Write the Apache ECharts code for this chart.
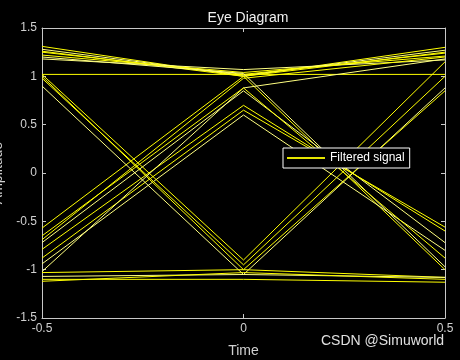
<!DOCTYPE html>
<html><head><meta charset="utf-8">
<script src="https://cdn.jsdelivr.net/npm/echarts@6/dist/echarts.min.js"></script>
<style>html,body{margin:0;padding:0;background:#000;}#c{width:460px;height:360px;}</style>
</head><body><div id="c"></div>
<script>
const timePoints = [-0.5, 0, 0.5];
const xTickLabels = ['-0.5', '0', '0.5'];
const yTickLabels = ['-1.5', '-1', '-0.5', '0', '0.5', '1', '1.5'];
const traces = [
  [1.31, 1.00, 1.30],
  [1.28, 1.01, 1.27],
  [1.25, 1.02, 1.24],
  [1.22, 1.04, 1.21],
  [1.18, 1.07, 1.17],
  [1.02, 1.02, 1.02],
  [1.26, 1.00, -1.00],
  [1.20, 1.03, -0.97],
  [-0.57, 1.00, 1.25],
  [-0.69, 0.98, 1.20],
  [-0.72, 0.85, -0.72],
  [-0.79, 0.70, -0.60],
  [-0.88, 0.65, -0.56],
  [-0.94, 0.60, -0.80],
  [1.02, -0.90, 1.15],
  [0.98, -0.95, 1.00],
  [0.90, -1.05, 0.88],
  [1.00, -1.00, -1.08],
  [-1.03, -1.00, 0.85],
  [-1.07, -1.05, -1.08],
  [-1.10, -1.10, -1.13],
  [-1.12, -1.03, -1.10],
  [-1.02, 0.88, 1.18],
  [-0.65, 0.88, -0.88]
];
const seriesName = 'Filtered signal';
const chart = echarts.init(document.getElementById('c'), null, {renderer: 'canvas'});
const font = 'Liberation Sans, Arial, sans-serif';
const axisCol = '#c8c8c8';
const series = traces.map((t, i) => ({
  name: seriesName,
  type: 'line',
  data: timePoints.map((x, j) => [x, t[j]]),
  symbol: 'none',
  lineStyle: {width: 1, color: (i % 3 === 1) ? '#ffff80' : '#ffff00'},
  itemStyle: {color: '#ffff00'},
  emphasis: {disabled: true},
  silent: true,
  z: 2
}));
function xAx(pos, show) {
  return {type: 'value', position: pos, min: -0.5, max: 0.5, interval: 0.5,
    axisLine: {show: true, onZero: false, lineStyle: {color: axisCol, width: 1}},
    axisTick: {show: true, inside: true, length: 4, lineStyle: {color: axisCol}},
    axisLabel: {show: show, color: '#d0d0d0', fontFamily: font, fontSize: 12, margin: 5,
      formatter: v => xTickLabels[Math.round((v + 0.5) / 0.5)]},
    splitLine: {show: false},
    name: show ? 'Time' : '', nameLocation: 'middle', nameGap: 26,
    nameTextStyle: {color: '#d0d0d0', fontFamily: font, fontSize: 14}};
}
function yAx(pos, show) {
  return {type: 'value', position: pos, min: -1.5, max: 1.5, interval: 0.5,
    axisLine: {show: true, onZero: false, lineStyle: {color: axisCol, width: 1}},
    axisTick: {show: true, inside: true, length: 4, lineStyle: {color: axisCol}},
    axisLabel: {show: show, color: '#d0d0d0', fontFamily: font, fontSize: 12, margin: 5,
      formatter: v => yTickLabels[Math.round((v + 1.5) / 0.5)]},
    splitLine: {show: false},
    name: show ? 'Amplitude' : '', nameLocation: 'middle', nameGap: 28, nameRotate: 90,
    nameTextStyle: {color: '#d0d0d0', fontFamily: font, fontSize: 14}};
}
chart.setOption({
  backgroundColor: '#000',
  animation: false,
  title: {text: 'Eye Diagram', left: 243, top: 6, textAlign: 'center',
    textStyle: {color: '#f0f0f0', fontFamily: font, fontSize: 14, fontWeight: 'normal'}},
  grid: {left: 42, right: 15, top: 28, bottom: 42, containLabel: false, outerBoundsMode: 'none'},
  xAxis: [xAx('bottom', true), xAx('top', false)],
  yAxis: [yAx('left', true), yAx('right', false)],
  legend: {data: [{name: seriesName, icon: 'rect'}], left: 283, top: 148, orient: 'vertical',
    backgroundColor: '#000', borderColor: '#ffffff', borderWidth: 1, borderRadius: 0,
    padding: [3, 5, 3, 4], itemWidth: 38, itemHeight: 2, itemGap: 0,
    itemStyle: {color: '#e6e600', borderWidth: 0},
    selectedMode: false,
    textStyle: {color: '#ffffff', fontFamily: font, fontSize: 12, lineHeight: 14}},
  graphic: [{type: 'text', left: 321, top: 334,
    style: {text: 'CSDN @Simuworld', fill: '#e0e0e0', font: '14px ' + font}}],
  series: series
});
</script></body></html>
